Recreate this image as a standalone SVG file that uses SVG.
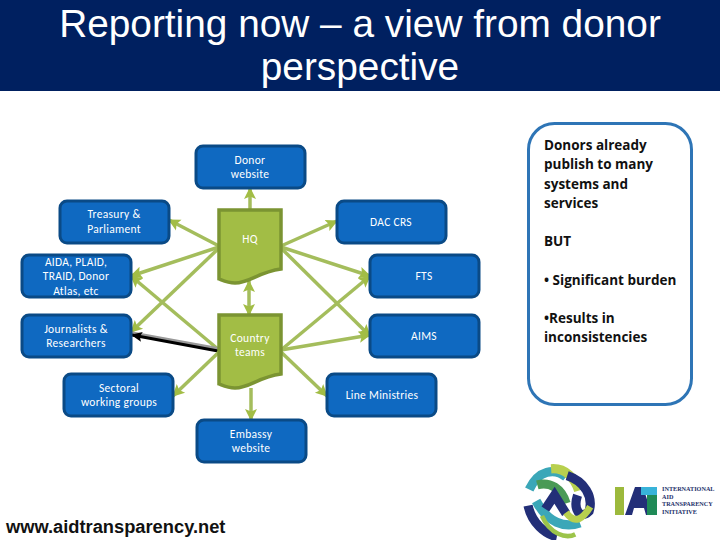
<svg xmlns="http://www.w3.org/2000/svg" width="720" height="540" viewBox="0 0 720 540">
<defs>
<style>
.title{font:38.8px "Liberation Sans",Arial,sans-serif;fill:#fff;text-anchor:middle}
.box{fill:#0f69c1;stroke:#0a4a86;stroke-width:3}
.doc{fill:#a2bd45;stroke:#7b9432;stroke-width:3.500}
.lbl{font:11.500px Carlito,Lato,"Open Sans",sans-serif;fill:#fff;text-anchor:middle;letter-spacing:.3px}
.side{font:bold 13.500px "Open Sans","DejaVu Sans",sans-serif;fill:#111}
.c{fill:none;stroke:#a4bd5c;stroke-width:3.500}
.k{fill:none;stroke:#000;stroke-width:3}
.u{font:bold 18.300px "Liberation Sans",Arial,sans-serif;fill:#111}
.logo{font:bold 6.200px "Liberation Serif",serif;fill:#24306a}
</style>
<marker id="a" markerUnits="userSpaceOnUse" markerWidth="14" markerHeight="14" refX="11" refY="7" orient="auto-start-reverse"><path d="M0 1L12 7L0 13L2.500 7Z" fill="#a2bd45"/></marker>
<marker id="b" markerUnits="userSpaceOnUse" markerWidth="12" markerHeight="12" refX="10" refY="6" orient="auto"><path d="M0 1L11 6L0 11L2 6Z" fill="#000"/></marker>
</defs>
<rect width="720" height="540" fill="#fff"/>
<rect width="720" height="91" fill="#002060"/>
<text class="title" x="360" y="37">Reporting now – a view from donor</text>
<text class="title" x="360" y="80">perspective</text>
<g id="connectors">
<path class="c" marker-end="url(#a)" d="M250 211L250 188"/>
<path class="c" marker-start="url(#a)" marker-end="url(#a)" d="M249 281L249 315"/>
<path class="c" marker-end="url(#a)" d="M251 388L251 420"/>
<path class="c" marker-end="url(#a)" d="M219 246L169 220"/>
<path class="c" marker-end="url(#a)" d="M219 247L131 276"/>
<path class="c" marker-end="url(#a)" d="M219 248L131 332"/>
<path class="c" marker-end="url(#a)" d="M281 246L337 221"/>
<path class="c" marker-end="url(#a)" d="M281 247L370 276"/>
<path class="c" marker-end="url(#a)" d="M281 248L370 336"/>
<path class="c" marker-end="url(#a)" d="M219 350L131 276"/>
<path class="c" style="stroke:#999" d="M219 349L131 333"/>
<path class="k" marker-end="url(#b)" d="M218 351L132 335"/>
<path class="c" marker-end="url(#a)" d="M219 352L173 396"/>
<path class="c" marker-end="url(#a)" d="M281 350L370 276"/>
<path class="c" marker-end="url(#a)" d="M281 350L370 335"/>
<path class="c" marker-end="url(#a)" d="M281 352L327 396"/>
</g>
<g id="donor-website"><rect class="box" x="196" y="146" width="109" height="42" rx="7"/><text class="lbl" x="250" y="164">Donor</text><text class="lbl" x="250" y="178">website</text></g>
<g id="treasury"><rect class="box" x="60" y="201" width="109" height="42" rx="7"/><text class="lbl" x="114" y="218">Treasury &amp;</text><text class="lbl" x="114" y="233">Parliament</text></g>
<g id="aida"><rect class="box" x="22" y="255" width="109" height="42" rx="7"/><text class="lbl" x="76" y="266">AIDA, PLAID,</text><text class="lbl" x="76" y="280">TRAID, Donor</text><text class="lbl" x="76" y="295">Atlas, etc</text></g>
<g id="journalists"><rect class="box" x="22" y="315" width="109" height="42" rx="7"/><text class="lbl" x="76" y="333">Journalists &amp;</text><text class="lbl" x="76" y="347">Researchers</text></g>
<g id="sectoral"><rect class="box" x="64" y="374" width="109" height="42" rx="7"/><text class="lbl" x="119" y="392">Sectoral</text><text class="lbl" x="119" y="406">working groups</text></g>
<g id="embassy"><rect class="box" x="197" y="420" width="109" height="42" rx="7"/><text class="lbl" x="251" y="438">Embassy</text><text class="lbl" x="251" y="452">website</text></g>
<g id="dac"><rect class="box" x="337" y="201" width="109" height="42" rx="7"/><text class="lbl" x="391" y="226">DAC CRS</text></g>
<g id="fts"><rect class="box" x="370" y="255" width="109" height="42" rx="7"/><text class="lbl" x="424" y="280">FTS</text></g>
<g id="aims"><rect class="box" x="370" y="315" width="109" height="42" rx="7"/><text class="lbl" x="424" y="340">AIMS</text></g>
<g id="line"><rect class="box" x="327" y="374" width="109" height="42" rx="7"/><text class="lbl" x="382" y="399">Line Ministries</text></g>
<g id="hq"><path class="doc" d="M219 210H281V269C258 272 250 283 235 283C228 283 224 281 219 279Z"/><text class="lbl" x="250" y="243">HQ</text></g>
<g id="country"><path class="doc" d="M219 315H281V374C258 377 250 388 235 388C228 388 224 386 219 384Z"/><text class="lbl" x="250" y="342">Country</text><text class="lbl" x="250" y="356">teams</text></g>
<g id="note"><rect x="528.500" y="123.500" width="163" height="281" rx="26" fill="#fff" stroke="#2e75b6" stroke-width="3"/>
<text class="side" x="544" y="150">Donors already</text><text class="side" x="544" y="169">publish to many</text><text class="side" x="544" y="189">systems and</text><text class="side" x="544" y="208">services</text><text class="side" x="544" y="246">BUT</text><text class="side" x="544" y="285">• Significant burden</text><text class="side" x="544" y="323">•Results in</text><text class="side" x="544" y="342">inconsistencies</text></g>
<text class="u" x="6" y="533">www.aidtransparency.net</text>
<g id="globe" fill="none" stroke-width="8" transform="translate(558 501) scale(1.150) translate(-559 -501)">
<path d="M534 491C542 474 556 472 566 480" stroke="#3ba7b8"/>
<path d="M541 487C552 484 562 490 566 503" stroke="#4a9a56"/>
<path d="M553 473C566 472 574 482 577 492" stroke="#b8d04e"/>
<path d="M567 479C582 484 590 497 586 510C578 518 572 508 576 496" stroke="#232f78"/>
<path d="M533 505C536 520 548 530 558 532" stroke="#232f78"/>
<path d="M540 501C550 520 565 525 578 520" stroke="#3ba7b8"/>
<path d="M548 508L556 496L566 512" stroke="#232f78"/>
<path d="M566 511C574 522 581 516 587 506" stroke="#b8d04e" stroke-width="6"/>
<path d="M545 514C552 530 566 534 574 530" stroke="#9cc44a" stroke-width="4"/>
</g>
<g id="iati-logo">
<rect x="615" y="487" width="9" height="28" fill="#9cb93c"/>
<path d="M625 515L635 487H643L652 515H646L644 508H634L632 515Z" fill="#232f78"/>
<rect x="641" y="487" width="16" height="8" fill="#38b3d9"/>
<rect x="647" y="495" width="10" height="20" fill="#1f8a57"/>
<text class="logo" x="662" y="491">INTERNATIONAL</text>
<text class="logo" x="662" y="499">AID</text>
<text class="logo" x="662" y="506">TRANSPARENCY</text>
<text class="logo" x="662" y="514">INITIATIVE</text>
</g>
</svg>
